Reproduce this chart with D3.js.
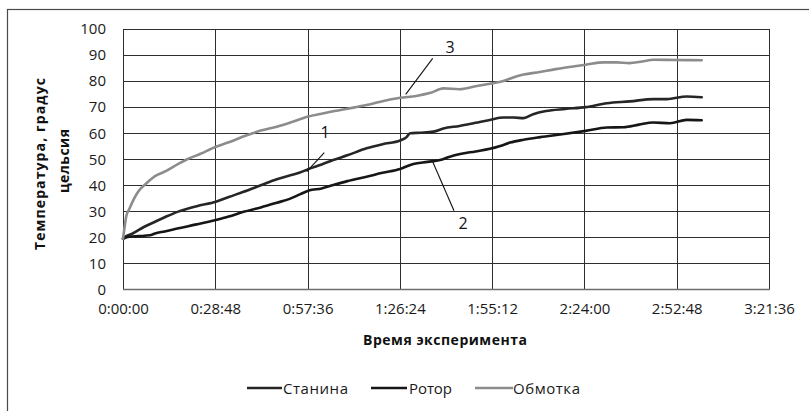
<!DOCTYPE html>
<html>
<head>
<meta charset="utf-8">
<script src="https://cdn.jsdelivr.net/npm/d3@7"></script>
<style>
  html, body { margin: 0; padding: 0; background: #fff; }
  svg { display: block; font-family: "Open Sans", "DejaVu Sans", sans-serif; }
</style>
</head>
<body>
<svg id="chart" width="809" height="411"></svg>
<script>
// Elapsed time of each reading, minutes
const timeObmotka = [0, 0.5, 1, 2, 3.5, 5, 7.5, 10, 13.5, 17, 20, 24, 29, 33, 37.5, 43, 48, 52, 57.8, 62, 66, 71, 76, 80, 86.5, 91.5, 96, 100, 105, 110, 114.5, 118.7, 122, 125, 130, 135, 140, 144.4, 150, 154, 158, 162, 165.5, 172, 180.6];
const obmotka = [19.5, 24, 28, 31, 35, 38, 41, 43.5, 45.5, 48, 50, 52, 54.8, 56.5, 58.7, 61, 62.5, 64, 66.4, 67.5, 68.5, 69.6, 70.8, 72, 73.6, 74.3, 75.5, 77.2, 76.9, 78, 79, 80, 81.5, 82.5, 83.5, 84.6, 85.5, 86.3, 87.2, 87.2, 86.9, 87.5, 88.2, 88.1, 88];

const timeStanina = [0, 1, 3, 6.5, 10, 13.5, 17, 23, 29, 33, 37.6, 43, 48, 52, 55, 58, 62, 65.6, 70, 76, 81, 86.5, 88.5, 89.6, 93, 96.9, 100, 105, 110, 114.5, 118.7, 122, 125, 128, 132, 138, 144.4, 151, 158.2, 165.5, 169.7, 175.9, 180.6];
const stanina = [19.5, 20.5, 21.5, 24, 26, 28, 29.8, 32, 33.7, 35.5, 37.5, 40, 42.3, 43.8, 44.8, 46.3, 48, 49.7, 51.5, 54.2, 55.8, 57.2, 58.5, 60, 60.2, 60.6, 61.8, 62.8, 64, 65.1, 66, 66, 65.8, 67.3, 68.5, 69.3, 70, 71.5, 72.2, 73.1, 73.1, 74.1, 73.8];

const timeRotor = [0, 2, 5, 8.4, 10, 13, 16.9, 23, 29, 33, 37.6, 43, 48, 52, 55.2, 58, 62, 65.6, 70, 76, 81, 86.5, 90.6, 95, 98.9, 102, 105.2, 110, 114.5, 117.7, 120.8, 125, 130.2, 137, 144.4, 151, 156.2, 161, 165.5, 170.7, 175.9, 180.6];
const rotor = [19.5, 20.3, 20.5, 20.8, 21.5, 22.3, 23.4, 25, 26.7, 28, 29.8, 31.5, 33.3, 34.8, 36.5, 38, 38.8, 40.1, 41.6, 43.3, 44.8, 46.3, 48.2, 49, 49.7, 51, 52, 53, 54, 55.1, 56.4, 57.5, 58.5, 59.6, 60.9, 62.2, 62.3, 63.3, 64.1, 63.8, 65.1, 65];

// Axis ticks (seconds) and labels
const xTickSeconds = [0, 1728, 3456, 5184, 6912, 8640, 10368, 12096];
const xTickLabels = ["0:00:00", "0:28:48", "0:57:36", "1:26:24", "1:55:12", "2:24:00", "2:52:48", "3:21:36"];
const yTicks = [0, 10, 20, 30, 40, 50, 60, 70, 80, 90, 100];

const seriesNames = ["Станина", "Ротор", "Обмотка"];
const seriesColors = ["#262626", "#161616", "#8c8c8c"];
const seriesLabels = ["1", "2", "3"];

const svg = d3.select("#chart");
const W = 809, H = 411;
const plot = { left: 123, top: 29, right: 769, bottom: 289.5 };

// Outer chart frame
svg.append("rect")
  .attr("x", 7.5).attr("y", 9.5)
  .attr("width", W + 10).attr("height", H + 10)
  .attr("fill", "none").attr("stroke", "#4a4a4a").attr("stroke-width", 1.2);

const x = d3.scaleLinear().domain([0, 12096]).range([plot.left, plot.right]);
const y = d3.scaleLinear().domain([0, 100]).range([plot.bottom, plot.top]);

// Horizontal gridlines
svg.append("g").selectAll("line").data(yTicks.filter(d => d > 0)).join("line")
  .attr("x1", plot.left).attr("x2", plot.right)
  .attr("y1", d => Math.round(y(d)) + 0.5).attr("y2", d => Math.round(y(d)) + 0.5)
  .attr("stroke", "#2e2e2e").attr("stroke-width", 1);

// Vertical gridlines
svg.append("g").selectAll("line").data(xTickSeconds).join("line")
  .attr("x1", d => Math.round(x(d)) + 0.5).attr("x2", d => Math.round(x(d)) + 0.5)
  .attr("y1", plot.top).attr("y2", plot.bottom)
  .attr("stroke", "#2e2e2e").attr("stroke-width", 1);

// Horizontal axis line
svg.append("line")
  .attr("x1", plot.left).attr("x2", plot.right + 1)
  .attr("y1", y(0)).attr("y2", y(0))
  .attr("stroke", "#6e6e6e").attr("stroke-width", 1.6);

// Y tick labels
const yAxis = d3.axisLeft(y).tickValues(yTicks).tickSize(0).tickPadding(17);
const gy = svg.append("g").attr("transform", `translate(${plot.left},0)`).call(yAxis);
gy.select(".domain").remove();
gy.selectAll("text").attr("font-size", 15).attr("fill", "#1a1a1a")
  .attr("font-family", "'Open Sans', sans-serif");

// X tick labels
const xAxis = d3.axisBottom(x).tickValues(xTickSeconds)
  .tickFormat((d, i) => xTickLabels[i]).tickSize(0).tickPadding(14);
const gx = svg.append("g").attr("transform", `translate(0,${plot.bottom})`).call(xAxis);
gx.select(".domain").remove();
gx.selectAll("text").attr("font-size", 15).attr("fill", "#1a1a1a")
  .attr("font-family", "'Open Sans', sans-serif");

// Axis titles
svg.append("text")
  .attr("x", 445).attr("y", 345)
  .attr("text-anchor", "middle").attr("font-size", 14).attr("font-weight", "bold")
  .attr("textLength", 164)
  .attr("fill", "#111").text("Время эксперимента");

const yTitle = svg.append("text")
  .attr("transform", "translate(45,164) rotate(-90)")
  .attr("text-anchor", "middle").attr("font-size", 14).attr("font-weight", "bold")
  .attr("fill", "#111");
yTitle.append("tspan").attr("x", 0).attr("dy", 0).attr("textLength", 172).text("Температура, градус");
yTitle.append("tspan").attr("x", 3).attr("dy", 24).attr("textLength", 64).text("цельсия");

// Series lines
const line = d3.line()
  .x(d => x(d[0] * 60))
  .y(d => y(d[1]))
  .curve(d3.curveMonotoneX);

const series = [
  d3.zip(timeStanina, stanina),
  d3.zip(timeRotor, rotor),
  d3.zip(timeObmotka, obmotka)
];

svg.append("g").selectAll("path").data(series).join("path")
  .attr("d", line)
  .attr("fill", "none")
  .attr("stroke", (d, i) => seriesColors[i])
  .attr("stroke-width", 2.6)
  .attr("stroke-linejoin", "round")
  .attr("stroke-linecap", "round");

// Numbered callouts with leader lines
const callouts = [
  { label: seriesLabels[0], tx: 325, ty: 138, x1: 324.3, y1: 152.7, x2: 306.7, y2: 171.7 },
  { label: seriesLabels[1], tx: 463, ty: 229, x1: 432.7, y1: 161.7, x2: 454, y2: 210.7 },
  { label: seriesLabels[2], tx: 450, ty: 52.5, x1: 432.7, y1: 58.3, x2: 405.7, y2: 94.3 }
];
const cg = svg.append("g");
callouts.forEach(c => {
  cg.append("line")
    .attr("x1", c.x1).attr("y1", c.y1).attr("x2", c.x2).attr("y2", c.y2)
    .attr("stroke", "#111").attr("stroke-width", 1.1);
  cg.append("text")
    .attr("x", c.tx).attr("y", c.ty)
    .attr("text-anchor", "middle").attr("font-size", 16).attr("fill", "#111")
    .text(c.label);
});

// Legend
const legendItems = [
  { x1: 247, x2: 282, tx: 283, w: 65 },
  { x1: 371, x2: 407, tx: 409, w: 43 },
  { x1: 475, x2: 513, tx: 513, w: 67 }
];
const lg = svg.append("g");
legendItems.forEach((l, i) => {
  lg.append("line")
    .attr("x1", l.x1).attr("x2", l.x2).attr("y1", 388).attr("y2", 388)
    .attr("stroke", seriesColors[i]).attr("stroke-width", 2.6);
  lg.append("text")
    .attr("x", l.tx).attr("y", 393.5)
    .attr("font-size", 15).attr("fill", "#1a1a1a")
    .attr("textLength", l.w)
    .text(seriesNames[i]);
});
</script>
</body>
</html>
